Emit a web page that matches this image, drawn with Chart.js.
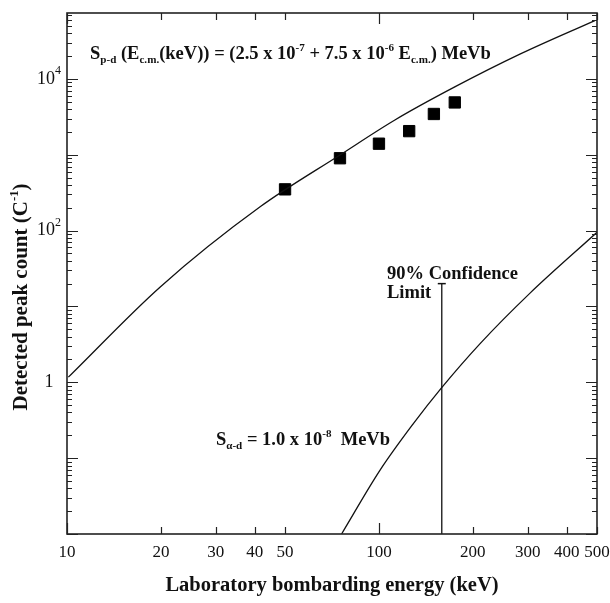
<!DOCTYPE html>
<html>
<head>
<meta charset="utf-8">
<script src="https://cdn.jsdelivr.net/npm/chart.js@4.4.0/dist/chart.umd.min.js"></script>
<style>
  html, body { margin: 0; padding: 0; background: #fff; }
</style>
</head>
<body>
<canvas id="chart" width="610" height="603"></canvas>
<script>
// S p-d curve
const pdEnergy = [10.1, 19.9, 41.6, 75, 112.5, 175, 283, 492];
const pdCount  = [1.17, 18.1, 206, 993, 2875, 7840, 21200, 58800];

// S alpha-d curve
const adEnergy = [75.9, 100.7, 128.9, 158.9, 211, 305, 500];
const adCount  = [0.01, 0.0689, 0.285, 0.851, 3.24, 15.0, 95];

// measured peak counts
const measEnergy = [50, 75, 100, 125, 150, 175];
const measCount  = [350, 900, 1400, 2050, 3450, 4900];

// 90% confidence limit bar
const limitEnergy = [159, 159];
const limitCount  = [0.01, 20];

// axes
const xTicks  = [10, 20, 30, 40, 50, 100, 200, 300, 400, 500];
const xMajor  = [10, 100];
const yDecades = [-2, -1, 0, 1, 2, 3, 4];
const yLabels = [{ v: 1, base: '1', sup: '' }, { v: 100, base: '10', sup: '2' }, { v: 10000, base: '10', sup: '4' }];

const SERIF = '"Liberation Serif", "DejaVu Serif", serif';

function toXY(xs, ys) {
    return xs.map((x, i) => ({ x: x, y: ys[i] }));
}

// draws text made of normal / sub / sup pieces, returns width
function richText(ctx, parts, x, y, size, measureOnly) {
    let cx = x;
    parts.forEach(p => {
        const s = p[1] ? size * 0.6 : size;
        ctx.font = 'bold ' + s + 'px ' + SERIF;
        let dy = 0;
        if (p[1] === 'sub') dy = size * 0.22;
        if (p[1] === 'sup') dy = -size * 0.45;
        if (!measureOnly) ctx.fillText(p[0], cx, y + dy);
        cx += ctx.measureText(p[0]).width;
    });
    return cx - x;
}

const framePlugin = {
    id: 'frame',
    afterDatasetsDraw(chart) {
        const ctx = chart.ctx;
        const a = chart.chartArea;
        const xs = chart.scales.x, ys = chart.scales.y;
        ctx.save();
        ctx.strokeStyle = '#222';
        ctx.lineWidth = 1.6;
        ctx.strokeRect(a.left, a.top, a.right - a.left, a.bottom - a.top);

        // x ticks, inward on bottom and top
        ctx.lineWidth = 1.2;
        ctx.beginPath();
        xTicks.forEach(v => {
            const px = Math.round(xs.getPixelForValue(v)) + 0.5;
            const len = xMajor.includes(v) ? 11 : 7;
            ctx.moveTo(px, a.bottom); ctx.lineTo(px, a.bottom - len);
            ctx.moveTo(px, a.top); ctx.lineTo(px, a.top + len);
        });
        // y ticks, inward on left and right
        yDecades.forEach(d => {
            for (let m = 1; m <= 9; m++) {
                const v = m * Math.pow(10, d);
                if (v < ys.min || v > ys.max) continue;
                const py = Math.round(ys.getPixelForValue(v)) + 0.5;
                const len = m === 1 ? 11 : 5;
                ctx.moveTo(a.left, py); ctx.lineTo(a.left + len, py);
                ctx.moveTo(a.right, py); ctx.lineTo(a.right - len, py);
            }
        });
        ctx.stroke();

        // tick labels
        ctx.fillStyle = '#111';
        ctx.textBaseline = 'middle';
        ctx.textAlign = 'center';
        ctx.font = '17px ' + SERIF;
        xTicks.forEach(v => {
            ctx.fillText(String(v), xs.getPixelForValue(v), a.bottom + 19);
        });
        yLabels.forEach(l => {
            const py = ys.getPixelForValue(l.v);
            ctx.font = '18px ' + SERIF;
            const wb = ctx.measureText(l.base).width;
            ctx.font = '12px ' + SERIF;
            const ws = l.sup ? ctx.measureText(l.sup).width : 0;
            const x0 = 49 - (wb + ws) / 2;
            ctx.textAlign = 'left';
            ctx.font = '18px ' + SERIF;
            ctx.fillText(l.base, x0, py);
            if (l.sup) {
                ctx.font = '12px ' + SERIF;
                ctx.fillText(l.sup, x0 + wb, py - 8);
            }
        });

        // axis titles
        ctx.textBaseline = 'alphabetic';
        ctx.textAlign = 'left';
        const xt = [['Laboratory bombarding energy (keV)']];
        let w = richText(ctx, xt, 0, 0, 20.5, true);
        richText(ctx, xt, (a.left + a.right) / 2 - w / 2, 591, 20.5);

        const yt = [['Detected peak count (C'], ['-1', 'sup'], [')']];
        ctx.save();
        ctx.translate(27, 297);
        ctx.rotate(-Math.PI / 2);
        w = richText(ctx, yt, 0, 0, 21, true);
        richText(ctx, yt, -w / 2, 0, 21);
        ctx.restore();

        // annotations
        const f1 = [['S'], ['p-d', 'sub'], [' (E'], ['c.m.', 'sub'], ['(keV)) = (2.5 x 10'], ['-7', 'sup'],
                    [' + 7.5 x 10'], ['-6', 'sup'], [' E'], ['c.m.', 'sub'], [') MeVb']];
        richText(ctx, f1, 90, 59, 18.5);

        const f2 = [['S'], ['\u03b1-d', 'sub'], [' = 1.0 x 10'], ['-8', 'sup'], ['  MeVb']];
        w = richText(ctx, f2, 0, 0, 18.5, true);
        richText(ctx, f2, 390 - w, 445, 18.5);

        ctx.font = 'bold 18.5px ' + SERIF;
        ctx.fillText('90% Confidence', 387, 279);
        ctx.fillText('Limit', 387, 298);
        ctx.restore();
    }
};

new Chart(document.getElementById('chart'), {
    type: 'scatter',
    data: {
        datasets: [
            {
                data: toXY(pdEnergy, pdCount),
                showLine: true,
                borderColor: '#111',
                borderWidth: 1.3,
                pointRadius: 0,
                cubicInterpolationMode: 'monotone'
            },
            {
                data: toXY(adEnergy, adCount),
                showLine: true,
                borderColor: '#111',
                borderWidth: 1.3,
                pointRadius: 0,
                cubicInterpolationMode: 'monotone'
            },
            {
                data: toXY(limitEnergy, limitCount),
                showLine: true,
                borderColor: '#111',
                borderWidth: 1.3,
                pointStyle: 'line',
                pointRadius: [0, 4],
                pointBorderColor: '#111',
                pointBorderWidth: 1.5
            },
            {
                data: toXY(measEnergy, measCount),
                showLine: false,
                pointStyle: 'rect',
                pointRadius: 8,
                backgroundColor: '#000',
                borderColor: '#000',
                borderWidth: 1
            }
        ]
    },
    options: {
        responsive: false,
        animation: false,
        layout: { padding: { left: 67, right: 13, top: 13, bottom: 69 } },
        scales: {
            x: { type: 'logarithmic', min: 10, max: 500, display: false },
            y: { type: 'logarithmic', min: 0.01, max: 74000, display: false }
        },
        plugins: {
            legend: { display: false },
            tooltip: { enabled: false }
        }
    },
    plugins: [framePlugin]
});
</script>
</body>
</html>
